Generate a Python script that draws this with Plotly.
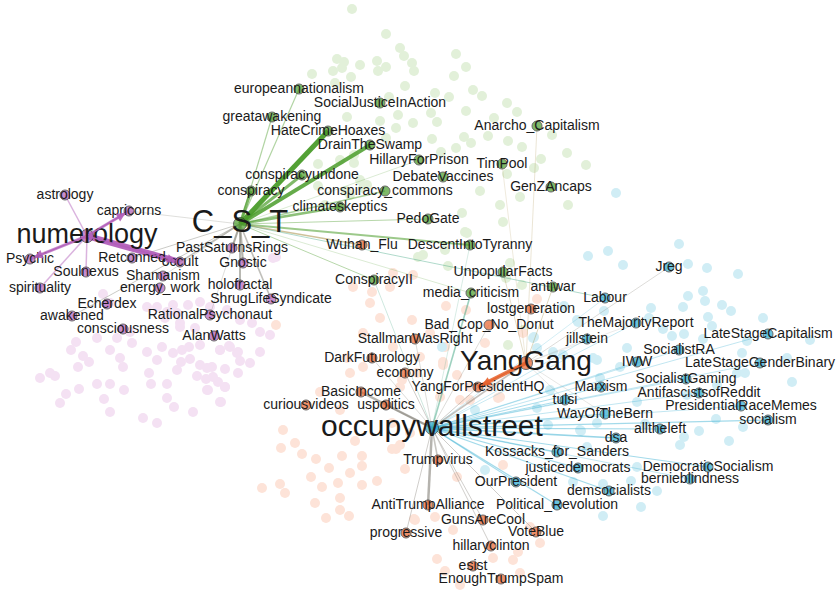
import plotly.graph_objects as go

# ---------------- data ----------------
group_names = ["conspiracy", "spiritual", "yang", "socialist"]

node_names = [
    "C_S_T", "europeannationalism", "greatawakening", "SocialJusticeInAction", "HateCrimeHoaxes",
    "DrainTheSwamp", "HillaryForPrison", "Anarcho_Capitalism", "TimPool", "DebateVaccines",
    "conspiracyundone", "conspiracy", "conspiracy_commons", "GenZAncaps", "climateskeptics",
    "PedoGate", "DescentIntoTyranny", "UnpopularFacts", "ConspiracyII", "antiwar", "media_criticism",
    "numerology", "astrology", "capricorns", "Psychic", "Retconned", "occult", "Soulnexus",
    "Shamanism", "spirituality", "energy_work", "Echerdex", "awakened", "consciousness",
    "PastSaturnsRings", "Gnostic", "holofractal", "ShrugLifeSyndicate", "RationalPsychonaut", "AlanWatts",
    "YangGang", "Wuhan_Flu", "lostgeneration", "Bad_Cop_No_Donut", "StallmanWasRight", "DarkFuturology",
    "economy", "YangForPresidentHQ", "BasicIncome", "curiousvideos", "uspolitics", "Trumpvirus",
    "AntiTrumpAlliance", "GunsAreCool", "VoteBlue", "progressive", "hillaryclinton", "esist",
    "EnoughTrumpSpam",
    "occupywallstreet", "Jreg", "Labour", "TheMajorityReport", "jillstein", "LateStageCapitalism",
    "SocialistRA", "IWW", "LateStageGenderBinary", "SocialistGaming", "Marxism", "AntifascistsofReddit",
    "tulsi", "PresidentialRaceMemes", "WayOfTheBern", "socialism", "alltheleft", "dsa",
    "Kossacks_for_Sanders", "justicedemocrats", "DemocraticSocialism", "bernieblindness", "OurPresident",
    "demsocialists", "Political_Revolution",
]
node_x = [
    240, 299, 272, 380, 328, 370, 419, 537, 502, 443, 302, 251, 385, 551, 340, 428, 470, 503, 374, 553, 471,
    87, 65, 129, 30, 132, 180, 86, 163, 40, 160, 107, 72, 123, 232, 243, 240, 271, 210, 214,
    526, 362, 531, 489, 415, 372, 405, 478, 361, 306, 386, 438, 428, 483, 536, 406, 491, 473, 501,
    432, 669, 605, 636, 587, 768, 679, 637, 760, 686, 601, 699, 565, 741, 605, 768, 660, 616,
    557, 578, 708, 690, 516, 609, 557,
]
node_y = [
    224, 89, 117, 103, 131, 145, 160, 126, 164, 177, 175, 191, 191, 187, 207, 219, 245, 272, 280, 287, 293,
    236, 195, 211, 259, 258, 262, 272, 276, 288, 288, 304, 316, 329, 248, 263, 285, 299, 315, 336,
    363, 245, 309, 325, 339, 358, 373, 387, 392, 405, 405, 460, 505, 520, 532, 533, 546, 566, 579,
    428, 267, 298, 323, 339, 334, 350, 362, 363, 379, 387, 393, 400, 406, 414, 420, 429, 438,
    452, 468, 467, 479, 482, 491, 505,
]
node_group = (
    ["conspiracy"] * 21 + ["spiritual"] * 19 + ["yang"] * 19 + ["socialist"] * 25
)

edge_source = (
    ["C_S_T"] * 25
    + ["numerology"] * 6
    + ["YangGang"] * 10
    + ["occupywallstreet"] * 40
)
edge_target = [
    # C_S_T
    "europeannationalism", "greatawakening", "HateCrimeHoaxes", "DrainTheSwamp", "conspiracyundone",
    "conspiracy", "climateskeptics", "conspiracy_commons", "DescentIntoTyranny", "PedoGate",
    "Wuhan_Flu", "ConspiracyII", "media_criticism", "Labour", "PastSaturnsRings", "Gnostic",
    "holofractal", "ShrugLifeSyndicate", "occult", "awakened", "RationalPsychonaut", "Retconned",
    "Shamanism", "HillaryForPrison", "capricorns",
    # numerology
    "astrology", "capricorns", "Psychic", "Soulnexus", "spirituality", "occult",
    # YangGang
    "YangForPresidentHQ", "Jreg", "antiwar", "UnpopularFacts", "Anarcho_Capitalism", "TimPool",
    "tulsi", "WayOfTheBern", "jillstein", "TheMajorityReport",
    # occupywallstreet
    "YangGang", "TheMajorityReport", "jillstein", "LateStageCapitalism", "SocialistRA", "IWW",
    "LateStageGenderBinary", "SocialistGaming", "Marxism", "AntifascistsofReddit", "tulsi",
    "PresidentialRaceMemes", "WayOfTheBern", "socialism", "alltheleft", "dsa", "Kossacks_for_Sanders",
    "justicedemocrats", "DemocraticSocialism", "bernieblindness", "OurPresident", "demsocialists",
    "Political_Revolution", "StallmanWasRight", "DarkFuturology", "economy", "BasicIncome", "uspolitics",
    "Trumpvirus", "AntiTrumpAlliance", "progressive", "GunsAreCool", "hillaryclinton", "VoteBlue",
    "Bad_Cop_No_Donut", "YangForPresidentHQ", "media_criticism", "ConspiracyII", "DescentIntoTyranny",
    "Labour",
]
edge_weight = [
    1.2, 1.2, 5, 4, 3, 3, 2.5, 1.5, 2, 1, 1.5, 1, 0.6, 1, 2.2, 2.2, 2, 1.6, 1.5, 1, 0.7, 1, 0.7, 0.6, 0.7,
    1.5, 3, 3, 1.5, 1.5, 6,
    4, 0.8, 0.8, 0.7, 0.6, 0.5, 0.6, 0.6, 0.5, 0.5,
    1.6, 0.7, 0.7, 0.8, 0.8, 0.8, 0.8, 0.8, 1, 0.8, 1, 0.8, 1.2, 1.2, 1.2, 1.6, 1.2, 1.2, 1.2, 0.8, 1.2,
    1.2, 1.2,
    0.8, 0.8, 1, 2.5, 1.5, 1.5, 2.5, 1, 1, 1, 1, 0.8, 1, 1.6, 0.7, 0.6, 0.6,
]
arrow_edges = [("numerology", "occult"), ("numerology", "capricorns"), ("numerology", "Psychic"),
               ("YangGang", "YangForPresidentHQ")]

bg_conspiracy_x = [352, 386, 400, 404, 337, 344, 360, 377, 386, 378, 333, 342, 412, 414, 312, 351, 335, 405,
                   389, 398, 347, 380, 396, 413, 386, 354, 340, 354, 318, 360, 367, 346, 456, 466, 454, 473,
                   482, 435, 449, 507, 517, 466, 494, 437, 431, 464, 471, 488, 508, 522, 432, 456, 441, 541,
                   567, 586, 534, 507, 552, 480, 520, 500, 568, 462, 465, 503, 510, 448, 522, 423, 318, 350,
                   325, 418, 445, 467, 506, 508, 523, 363]
bg_conspiracy_y = [9, 34, 48, 56, 59, 62, 65, 61, 67, 71, 71, 68, 63, 71, 74, 77, 83, 86,
                   97, 115, 117, 121, 128, 123, 138, 155, 160, 163, 164, 180, 185, 191, 54, 67, 76, 90,
                   96, 93, 97, 103, 112, 111, 118, 122, 113, 137, 143, 136, 141, 147, 139, 148, 152, 159,
                   153, 165, 168, 174, 135, 191, 197, 205, 205, 213, 232, 222, 263, 266, 285, 255, 186, 195,
                   205, 257, 250, 233, 278, 345, 330, 188]
bg_spiritual_x = [103, 110, 147, 173, 188, 200, 210, 227, 165, 180, 195, 240, 252, 260, 270, 76, 71, 83, 89,
                  78, 110, 120, 123, 132, 147, 157, 162, 173, 182, 189, 200, 220, 229, 237, 250, 260, 240,
                  212, 200, 190, 181, 177, 149, 55, 97, 110, 79, 66, 60, 104, 110, 124, 151, 167, 167, 174,
                  193, 143, 157, 197, 206, 218, 225, 238, 225, 208, 221, 157, 167, 177, 273, 276, 215, 230,
                  238, 220, 207, 213, 225, 207, 220, 180, 130, 117, 97, 50, 40]
bg_spiritual_y = [294, 303, 307, 305, 305, 302, 307, 310, 318, 323, 328, 320, 323, 332, 335, 342, 350, 356,
                  362, 367, 350, 358, 367, 343, 352, 360, 347, 353, 350, 347, 345, 350, 346, 353, 363, 352,
                  361, 367, 365, 359, 362, 370, 373, 376, 384, 384, 389, 394, 403, 399, 412, 390, 384, 384,
                  398, 407, 412, 418, 423, 376, 379, 382, 369, 373, 387, 390, 402, 307, 312, 313, 258, 257,
                  335, 347, 352, 350, 368, 377, 387, 390, 402, 327, 332, 338, 338, 373, 378]
bg_yang_x = [281, 295, 302, 316, 342, 362, 362, 350, 329, 311, 280, 262, 285, 322, 338, 362, 377, 340, 315,
             340, 326, 349, 396, 414, 355, 363, 350, 347, 320, 340, 392, 410, 392, 400, 405, 415, 435, 453,
             437, 445, 460, 493, 513, 520, 518, 540, 530, 503, 457, 470, 500, 485, 402, 400, 393, 413, 390,
             370, 380, 412, 430, 393, 420, 445, 443, 457, 470, 460, 440, 498, 490, 363, 417, 537, 446, 466,
             443, 523, 353, 372, 283, 276]
bg_yang_y = [448, 443, 454, 459, 456, 456, 466, 473, 468, 477, 484, 488, 493, 487, 483, 485, 481, 498, 503,
             510, 518, 516, 449, 519, 441, 367, 373, 358, 392, 410, 423, 433, 449, 445, 469, 520, 517, 530,
             559, 571, 585, 558, 560, 573, 552, 543, 527, 465, 477, 400, 397, 343, 380, 387, 273, 275, 287,
             303, 318, 320, 333, 347, 357, 347, 362, 375, 387, 400, 397, 398, 387, 333, 373, 299, 306, 310,
             365, 333, 287, 292, 430, 325]
bg_socialist_x = [616, 608, 588, 623, 651, 604, 578, 564, 684, 672, 627, 742, 787, 810, 703, 553, 534, 597,
                  737, 679, 688, 707, 738, 688, 703, 705, 722, 731, 683, 708, 712, 763, 663, 747, 620, 745,
                  792, 717, 687, 637, 716, 743, 645, 699, 684, 729, 680, 581, 587, 637, 573, 631, 657, 603,
                  641, 603, 563, 475, 485, 537, 548, 580, 597, 593, 537, 442, 550, 600, 533, 577, 649]
bg_socialist_y = [193, 251, 256, 265, 308, 311, 322, 306, 334, 336, 348, 353, 358, 340, 339, 352, 337, 360,
                  373, 244, 264, 268, 274, 296, 291, 301, 305, 311, 307, 317, 326, 318, 329, 341, 367, 373,
                  382, 385, 395, 402, 419, 427, 424, 431, 437, 441, 445, 431, 447, 467, 482, 481, 491, 484,
                  507, 516, 355, 410, 470, 408, 425, 430, 423, 358, 348, 347, 390, 378, 338, 320, 318]

# ---------------- styles ----------------
core_color = {"conspiracy": (74, 156, 42), "spiritual": (178, 95, 186),
              "yang": (232, 98, 44), "socialist": (42, 169, 207)}
faint_color = {"conspiracy": "#e2f0d9", "spiritual": "#f4e1f3",
               "yang": "#fde3d8", "socialist": "#d0edf5"}
big_label_size = {"C_S_T": 31, "numerology": 27, "YangGang": 28, "occupywallstreet": 30}
FONT = "Liberation Sans, Arial, sans-serif"

pos = {n: (x, y) for n, x, y in zip(node_names, node_x, node_y)}
grp = dict(zip(node_names, node_group))

fig = go.Figure()

# faint background nodes
bg_sets = [("conspiracy", bg_conspiracy_x, bg_conspiracy_y), ("spiritual", bg_spiritual_x, bg_spiritual_y),
           ("yang", bg_yang_x, bg_yang_y), ("socialist", bg_socialist_x, bg_socialist_y)]
for g, xs, ys in bg_sets:
    fig.add_trace(go.Scatter(x=xs, y=ys, mode="markers", hoverinfo="skip",
                             marker=dict(size=10, color=faint_color[g], line=dict(width=0))))

# edges (colour = mix of the two endpoint colours)
for s, t, w in zip(edge_source, edge_target, edge_weight):
    c1, c2 = core_color[grp[s]], core_color[grp[t]]
    r, gg, b = [int((a + c) / 2) for a, c in zip(c1, c2)]
    alpha = min(0.95, 0.25 + 0.15 * w)
    fig.add_trace(go.Scatter(x=[pos[s][0], pos[t][0]], y=[pos[s][1], pos[t][1]], mode="lines",
                             hoverinfo="skip",
                             line=dict(color=f"rgba({r},{gg},{b},{alpha})", width=w)))

# nodes
for g in group_names:
    xs = [x for x, gg in zip(node_x, node_group) if gg == g]
    ys = [y for y, gg in zip(node_y, node_group) if gg == g]
    names = [n for n, gg in zip(node_names, node_group) if gg == g]
    sizes = [13 if n in big_label_size else 10 for n in names]
    r, gr, b = core_color[g]
    fig.add_trace(go.Scatter(x=xs, y=ys, mode="markers", text=names, hoverinfo="text",
                             marker=dict(size=sizes, color=f"rgb({r},{gr},{b})",
                                         line=dict(width=1, color="#2a2a2a"))))

# arrow heads
for s, t in arrow_edges:
    c1, c2 = core_color[grp[s]], core_color[grp[t]]
    r, gg, b = [int((a + c) / 2) for a, c in zip(c1, c2)]
    if grp[s] == grp[t]:
        r, gg, b = c1
    fig.add_annotation(x=pos[t][0], y=pos[t][1], ax=pos[s][0], ay=pos[s][1],
                       xref="x", yref="y", axref="x", ayref="y", text="", showarrow=True,
                       arrowhead=2, arrowsize=1.2, arrowwidth=1.5, standoff=4,
                       arrowcolor=f"rgba({r},{gg},{b},0.9)")

# labels
fig.add_trace(go.Scatter(x=node_x, y=node_y, mode="text", text=node_names, hoverinfo="skip",
                         textposition="middle center", cliponaxis=False,
                         textfont=dict(family=FONT, color="#1a1a1a",
                                       size=[big_label_size.get(n, 14) for n in node_names])))

fig.update_layout(
    width=838, height=594, showlegend=False,
    margin=dict(l=0, r=0, t=0, b=0),
    paper_bgcolor="white", plot_bgcolor="white",
    xaxis=dict(range=[0, 838], visible=False, fixedrange=True),
    yaxis=dict(range=[594, 0], visible=False, fixedrange=True),
)
fig.write_html("out.html", config={"displayModeBar": False},
               post_script="document.body.style.margin='0';")
